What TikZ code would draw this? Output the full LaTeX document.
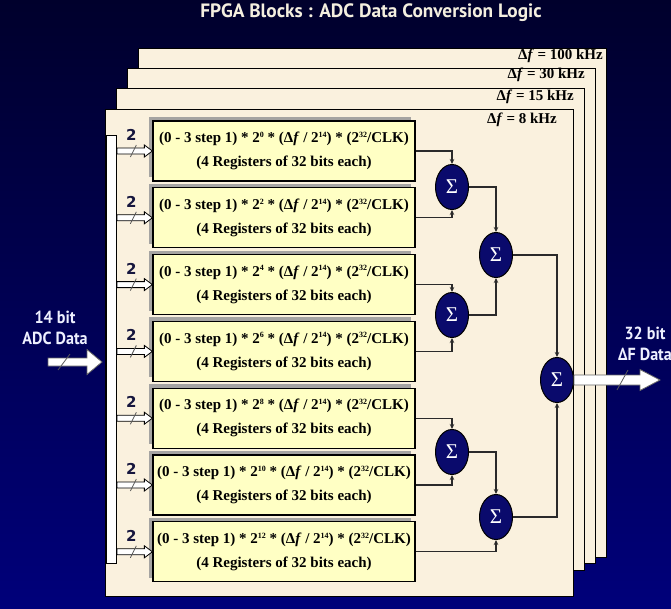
\documentclass[tikz,border=0pt]{standalone}
\usepackage{fontspec}
\setmainfont{Liberation Serif}
\newfontfamily\headsans{PT Sans}
\newfontfamily\sidesans[FakeStretch=0.92]{PT Sans}
\newfontfamily\tagsans{DejaVu Sans}
\usetikzlibrary{arrows.meta,shapes.geometric,calc,shadows}

\definecolor{bgtop}{HTML}{00002C}
\definecolor{bgbot}{HTML}{00007A}
\definecolor{paper}{HTML}{FAF1DE}
\definecolor{regfill}{HTML}{FFFFC4}
\definecolor{sumfill}{HTML}{0A0A6C}
\definecolor{shadowgray}{HTML}{9C9C9C}
\definecolor{linkgray}{HTML}{2A2A2A}
\definecolor{titlecol}{HTML}{F4EFDF}
\definecolor{sidetext}{HTML}{EEF0FF}
\definecolor{tagcol}{HTML}{16163E}

% small raised exponent
\newcommand\regexp[1]{\raisebox{5.5pt}{\fontsize{8}{8}\selectfont #1}}
% register block contents: the exponent of the power of two varies per block
\newcommand\regtext[1]{(0 - 3 step 1) * 2\regexp{#1} * (Δ\textit{f} / 2\regexp{14}) * (2\regexp{32}/CLK)\\(4 Registers of 32 bits each)}

\tikzset{
  blockarrow/.style n args={3}{to path={
    ++(0,#1) -- ($(\tikztotarget)+(-#3,#1)$) -- ($(\tikztotarget)+(-#3,#2)$)
    -- (\tikztotarget)
    -- ($(\tikztotarget)+(-#3,-#2)$) -- ($(\tikztotarget)+(-#3,-#1)$)
    -- ($(\tikztostart)+(0,-#1)$) -- cycle}},
}

\begin{document}
\begin{tikzpicture}[x=1pt,y=-1pt,
  pagesheet/.style={draw=black,line width=1.2pt,fill=paper,minimum width=468pt,
    anchor=north west,inner sep=0pt},
  freq/.style={font=\bfseries\fontsize{15}{15}\selectfont,anchor=east,inner sep=0pt},
  regbox/.style={draw=black,line width=1.3pt,fill=regfill,minimum width=262pt,
    minimum height=60pt,align=center,inner sep=0pt,
    font=\bfseries\fontsize{15}{24}\selectfont,
    drop shadow={shadow xshift=-4pt,shadow yshift=4pt,fill=shadowgray,opacity=0.9}},
  sumnode/.style={ellipse,draw=black,line width=1pt,fill=sumfill,minimum width=33pt,
    minimum height=45pt,inner sep=0pt,text=white,font=\fontsize{21}{21}\selectfont},
  link/.style={draw=linkgray,line width=1.2pt,-{Stealth[length=5pt,width=4.5pt]}},
  feed/.style={draw=black,line width=0.8pt,fill=white,blockarrow={3}{6}{8}},
  bigfeed/.style={draw=black!60,line width=0.8pt,fill=white},
  slashmark/.style={draw=black!65,line width=0.8pt},
  sidelabel/.style={font=\sidesans\bfseries\fontsize{17.5}{21}\selectfont,text=sidetext,
    align=center,inner sep=0pt},
  widthtag/.style={font=\tagsans\bfseries\fontsize{15}{15}\selectfont,text=tagcol,inner sep=0pt},
]
\useasboundingbox (0,0) rectangle (671,608);
\shade[top color=bgtop,bottom color=bgbot] (0,0) rectangle (671,608);

% title
\node[font=\headsans\bfseries\fontsize{19.3}{19.3}\selectfont,text=titlecol] (title) at (371,13)
  {FPGA Blocks : ADC Data Conversion Logic};

% stacked sheets, one per frequency step
\node[pagesheet,minimum height=509pt] (p100) at (138,48) {};
\node[pagesheet,minimum height=495pt] (p30) at (127,68) {};
\node[pagesheet,minimum height=482pt] (p15) at (116,88) {};
\node[pagesheet,minimum height=487pt] (p8) at (105,109) {};
\node[freq] (f100) at (603,56) {Δ\textit{f} = 100 kHz};
\node[freq] (f30)  at (585,75) {Δ\textit{f} = 30 kHz};
\node[freq] (f15)  at (574,97) {Δ\textit{f} = 15 kHz};
\node[freq] (f8)   at (557,120) {Δ\textit{f} = 8 kHz};

% input bus
\node[draw=black,line width=1pt,fill=white,minimum width=10pt,minimum height=428pt,
  anchor=north west,inner sep=0pt] (bus) at (106,135) {};

% register blocks with their 2-bit feeds
\foreach \i/\e in {0/0,1/2,2/4,3/6,4/8,5/10,6/12}{
  \node[regbox] (r\i) at (284,{151+66.8*\i}) {\regtext{\e}};
  \coordinate (b\i) at (bus.east |- r\i.west);
  \draw[feed] (b\i) to (r\i.west);
  \draw[slashmark] ($(r\i.west)+(-22,6)$) -- ($(r\i.west)+(-16,-6)$);
  \node[widthtag] (w\i) at ($(r\i.west)+(-21,-16)$) {2};
}

% adder tree
\node[sumnode] (s1) at (452,187) {Σ};
\node[sumnode] (s3) at (452,315) {Σ};
\node[sumnode] (s2) at (496,255) {Σ};
\node[sumnode] (s5) at (452,452) {Σ};
\node[sumnode] (s6) at (496,517) {Σ};
\node[sumnode] (sf) at (557,380) {Σ};

\draw[link] (r0.east) -| (s1.north);
\draw[link] (r1.east) -| (s1.south);
\draw[link] (r2.east) -| (s3.north);
\draw[link] (r3.east) -| (s3.south);
\draw[link] (s1.east) -| (s2.north);
\draw[link] (s3.east) -| (s2.south);
\draw[link] (r4.east) -| (s5.north);
\draw[link] (r5.east) -| (s5.south);
\draw[link] (s5.east) -| (s6.north);
\draw[link] (r6.east) -| (s6.south);
\draw[link] (s2.east) -| (sf.north);
\draw[link] (s6.east) -| (sf.south);

% ADC input
\node[sidelabel] (inlab) at (55,328) {14 bit\\ADC Data};
\coordinate (inTail) at (48,362);
\coordinate (inTip) at (102,362);
\draw[bigfeed] (inTail) to[blockarrow={4}{12.5}{15}] (inTip);
\draw[slashmark] (58,370) -- (70,354);

% frequency word output
\node[sidelabel] (outlab) at (645,344) {32 bit\\ΔF Data};
\coordinate (outTip) at (660,380);
\draw[bigfeed] (sf.east) to[blockarrow={5}{10.5}{20}] (outTip);
\draw[slashmark] (617,390) -- (628,370);
\end{tikzpicture}
\end{document}
